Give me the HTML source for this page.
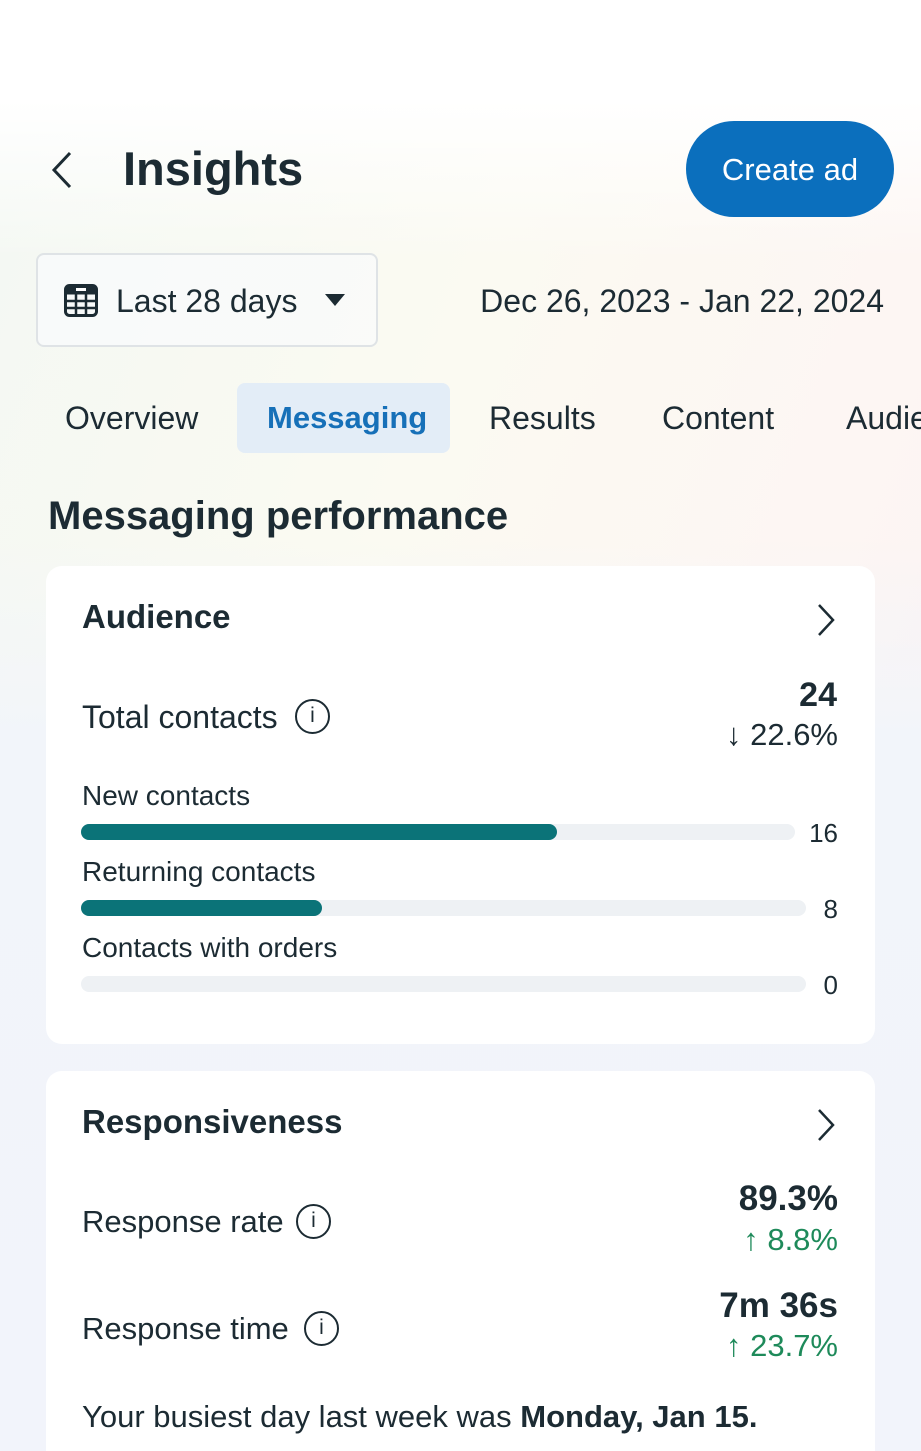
<!DOCTYPE html>
<html><head><meta charset="utf-8"><style>
*{margin:0;padding:0;box-sizing:border-box}
html,body{overflow:hidden}
body{width:921px;height:1451px;position:relative;font-family:"Liberation Sans",sans-serif;color:#1c2b33;
background:linear-gradient(180deg,#fff 0,#fff 100px,rgba(255,255,255,0) 260px),linear-gradient(110deg,#f3f8f3 0%,#fbfaf2 40%,#fdf6f3 70%,#fbf1f3 100%);}
.bg2{position:absolute;left:0;top:540px;width:921px;height:911px;background:linear-gradient(180deg,rgba(243,245,250,0) 0,#f2f5fa 200px,#f2f4fb 100%)}
.t{position:absolute;line-height:1;white-space:nowrap}
.r{text-align:right}
.card{position:absolute;left:46px;width:829px;background:#fff;border-radius:16px}
.bar{position:absolute;height:16px;border-radius:8px;background:#eef1f4}
.fill{position:absolute;left:0;top:0;height:16px;border-radius:8px;background:#0b7378}
.info{position:absolute;width:35px;height:35px;border:2.5px solid #1c2b33;border-radius:50%;font-size:21px;text-align:center;line-height:30px}
</style></head><body>
<div class="bg2"></div>
<svg style="position:absolute;left:48px;top:150px" width="28" height="40"><path d="M22 3 L6 20 L22 37" fill="none" stroke="#1c2b33" stroke-width="3"/></svg>
<div class="t" style="left:123px;top:145px;font-size:47px;font-weight:bold">Insights</div>
<div style="position:absolute;left:686px;top:121px;width:208px;height:96px;border-radius:48px;background:#0b6fbd"></div>
<div class="t" style="left:686px;width:208px;text-align:center;top:154px;font-size:31px;color:#fff">Create ad</div>

<div style="position:absolute;left:36px;top:253px;width:342px;height:94px;border:2px solid #dfe3e6;border-radius:8px;background:rgba(250,251,252,.7)"></div>
<svg style="position:absolute;left:64px;top:284px" width="34" height="33"><rect x="1.5" y="1.5" width="31" height="30" rx="4" fill="none" stroke="#1c2b33" stroke-width="3"/><rect x="1.5" y="1.5" width="31" height="9" fill="#1c2b33"/><rect x="12" y="4" width="10" height="3" fill="#fff"/><path d="M12 10V31M22 10V31M2 17H32M2 24H32" stroke="#1c2b33" stroke-width="2.5"/></svg>
<div class="t" style="left:116px;top:285px;font-size:32px">Last 28 days</div>
<svg style="position:absolute;left:324px;top:293px" width="22" height="14"><path d="M1 1H21L11 13Z" fill="#1c2b33"/></svg>
<div class="t r" style="right:37px;top:285px;font-size:32px">Dec 26, 2023 - Jan 22, 2024</div>

<div style="position:absolute;left:237px;top:383px;width:213px;height:70px;border-radius:8px;background:#e3edf7"></div>
<div class="t" style="left:65px;top:402px;font-size:32px">Overview</div>
<div class="t" style="left:267px;top:402px;font-size:31px;font-weight:bold;color:#1670b8">Messaging</div>
<div class="t" style="left:489px;top:402px;font-size:32px">Results</div>
<div class="t" style="left:662px;top:402px;font-size:32px">Content</div>
<div style="position:absolute;left:846px;top:395px;width:75px;height:50px;overflow:hidden"><div class="t" style="left:0;top:7px;font-size:32px">Audience</div></div>

<div class="t" style="left:48px;top:496px;font-size:40px;font-weight:bold">Messaging performance</div>

<div class="card" style="top:566px;height:478px"></div>
<div class="t" style="left:82px;top:600px;font-size:33px;font-weight:bold">Audience</div>
<svg style="position:absolute;left:814px;top:603px" width="24" height="34"><path d="M5 2 L19 17 L5 32" fill="none" stroke="#1c2b33" stroke-width="2.5"/></svg>
<div class="t" style="left:82px;top:701px;font-size:32px">Total contacts</div>
<div class="info" style="left:295px;top:699px">i</div>
<div class="t r" style="right:84px;top:678px;font-size:34px;font-weight:bold">24</div>
<div class="t r" style="right:83px;top:719px;font-size:31px">↓ 22.6%</div>

<div class="t" style="left:82px;top:782px;font-size:28px">New contacts</div>
<div class="bar" style="left:81px;top:824px;width:714px"><div class="fill" style="width:476px"></div></div>
<div class="t r" style="right:83px;top:820px;font-size:26px">16</div>
<div class="t" style="left:82px;top:858px;font-size:28px">Returning contacts</div>
<div class="bar" style="left:81px;top:900px;width:725px"><div class="fill" style="width:241px"></div></div>
<div class="t r" style="right:83px;top:896px;font-size:26px">8</div>
<div class="t" style="left:82px;top:934px;font-size:28px">Contacts with orders</div>
<div class="bar" style="left:81px;top:976px;width:725px"></div>
<div class="t r" style="right:83px;top:972px;font-size:26px">0</div>

<div class="card" style="top:1071px;height:380px;border-bottom-left-radius:0;border-bottom-right-radius:0"></div>
<div class="t" style="left:82px;top:1105px;font-size:33px;font-weight:bold">Responsiveness</div>
<svg style="position:absolute;left:814px;top:1108px" width="24" height="34"><path d="M5 2 L19 17 L5 32" fill="none" stroke="#1c2b33" stroke-width="2.5"/></svg>
<div class="t" style="left:82px;top:1206px;font-size:31px">Response rate</div>
<div class="info" style="left:296px;top:1204px">i</div>
<div class="t r" style="right:83px;top:1181px;font-size:35px;font-weight:bold">89.3%</div>
<div class="t r" style="right:83px;top:1224px;font-size:31px;color:#1e8a5a">↑ 8.8%</div>
<div class="t" style="left:82px;top:1313px;font-size:31px">Response time</div>
<div class="info" style="left:304px;top:1311px">i</div>
<div class="t r" style="right:83px;top:1288px;font-size:35px;font-weight:bold">7m 36s</div>
<div class="t r" style="right:83px;top:1330px;font-size:31px;color:#1e8a5a">↑ 23.7%</div>
<div class="t" style="left:82px;top:1401px;font-size:31px">Your busiest day last week was <b>Monday, Jan 15.</b></div>
</body></html>
